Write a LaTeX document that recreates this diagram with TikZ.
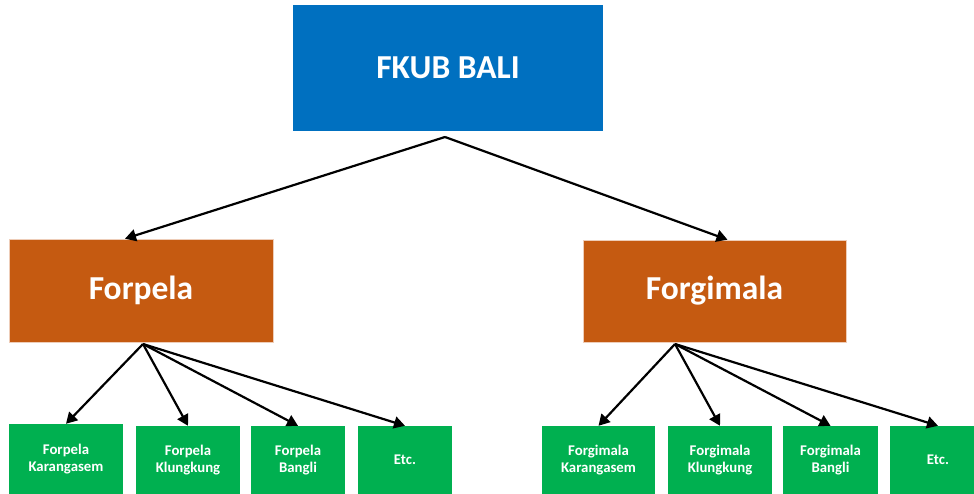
\documentclass[tikz,border=0pt]{standalone}
\usepackage{fontspec}
\setmainfont{Carlito}
\usetikzlibrary{arrows.meta,calc}
\definecolor{topblue}{HTML}{0070C0}
\definecolor{midorange}{HTML}{C55A11}
\definecolor{leafgreen}{HTML}{00B050}
\tikzset{
  box/.style={rectangle, inner sep=0pt, text=white, font=\bfseries, align=center},
  topbox/.style={box, fill=topblue, font=\bfseries\fontsize{33.5}{38}\selectfont},
  midbox/.style={box, fill=midorange, draw=midorange!30, line width=0.6pt, font=\bfseries\fontsize{33.5}{38}\selectfont},
  leaf/.style={box, fill=leafgreen, font=\bfseries\fontsize{14.8}{17.5}\selectfont},
  conn/.style={draw=black, line width=2.2pt, -{Triangle[length=11pt,width=12pt]}, shorten <=0pt}
}
\begin{document}
\begin{tikzpicture}[x=1pt,y=-1pt]
\clip (0,0) rectangle (974,494);
\useasboundingbox (0,0) rectangle (974,494);
\fill[white] (0,0) rectangle (974,494);
% top
\node[topbox, minimum width=310pt, minimum height=126pt] (top) at (448,68) {FKUB BALI};
\coordinate (topapex) at (445,137);
% middle
\node[midbox, minimum width=264pt, minimum height=103pt] (forpela) at (141,290.5) {Forpela};
\node[midbox, minimum width=263pt, minimum height=102pt] (forgimala) at (714.5,291) {Forgimala};
\coordinate (fpapex) at (143,344);
\coordinate (fgapex) at (675,344);
% leaves left
\node[leaf, minimum width=114pt, minimum height=70pt] (l1) at (66,459) {Forpela\\Karangasem};
\node[leaf, minimum width=104pt, minimum height=68pt] (l2) at (188,460) {Forpela\\Klungkung};
\node[leaf, minimum width=94pt, minimum height=68pt] (l3) at (298,460) {Forpela\\Bangli};
\node[leaf, minimum width=94pt, minimum height=68pt] (l4) at (405,460) {Etc.};
% leaves right
\node[leaf, minimum width=113pt, minimum height=68pt] (r1) at (598.5,460) {Forgimala\\Karangasem};
\node[leaf, minimum width=104pt, minimum height=68pt] (r2) at (720,460) {Forgimala\\Klungkung};
\node[leaf, minimum width=95pt, minimum height=68pt] (r3) at (830.5,460) {Forgimala\\Bangli};
\node[leaf, minimum width=96pt, minimum height=68pt] (r4) at (938,460) {Etc.};
% connectors
\draw[conn] (topapex) -- ($(forpela.north)+(-16,0)$);
\draw[conn] (topapex) -- ($(forgimala.north)+(13,0)$);
\draw[conn] (fpapex) -- (l1.north);
\draw[conn] (fpapex) -- (l2.north);
\draw[conn] (fpapex) -- (l3.north);
\draw[conn] (fpapex) -- (l4.north);
\draw[conn] (fgapex) -- (r1.north);
\draw[conn] (fgapex) -- (r2.north);
\draw[conn] (fgapex) -- (r3.north);
\draw[conn] (fgapex) -- (r4.north);
\end{tikzpicture}
\end{document}
